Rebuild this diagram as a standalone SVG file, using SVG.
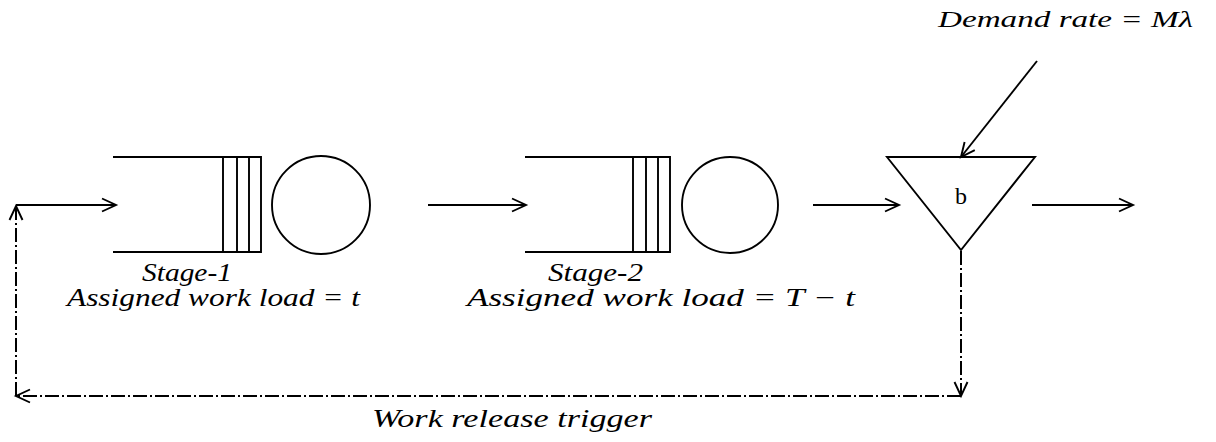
<svg xmlns="http://www.w3.org/2000/svg" width="1216" height="442" viewBox="0 0 1216 442">
<style>
.ln{stroke:#000;stroke-width:1.9;fill:none}
.dd{stroke:#000;stroke-width:2;fill:none;stroke-dasharray:14 3 2 3}
</style>
<defs>
<marker id="ah" markerUnits="userSpaceOnUse" markerWidth="30" markerHeight="30" refX="15" refY="15" orient="auto" overflow="visible">
<path d="M1,8.5 L15,15 L1,21.5" stroke="#000" stroke-width="1.9" fill="none"/>
</marker>
</defs>
<rect width="1216" height="442" fill="#fff"/>
<g id="stage1">
<path class="ln" d="M113,157 H261 V252 H113 M223,157 V252 M237,157 V252 M249,157 V252"/>
<circle class="ln" cx="321" cy="205" r="49"/>
<text font-family="Liberation Serif, serif" font-style="italic" font-size="25" x="142" y="281" textLength="90" lengthAdjust="spacingAndGlyphs">Stage-1</text>
<text font-family="Liberation Serif, serif" font-style="italic" font-size="25" x="67" y="306" textLength="293" lengthAdjust="spacingAndGlyphs">Assigned work load = t</text>
</g>
<g id="stage2">
<path class="ln" d="M525,157 H670 V252 H525 M633,157 V252 M646,157 V252 M658,157 V252"/>
<circle class="ln" cx="730" cy="205" r="48"/>
<text font-family="Liberation Serif, serif" font-style="italic" font-size="25" x="548" y="281" textLength="95" lengthAdjust="spacingAndGlyphs">Stage-2</text>
<text font-family="Liberation Serif, serif" font-style="italic" font-size="25" x="467" y="306" textLength="388" lengthAdjust="spacingAndGlyphs">Assigned work load = T − t</text>
</g>
<g id="buffer">
<path class="ln" d="M887,157 H1035 L961,250 Z"/>
<text font-family="Liberation Serif, serif" font-size="24" x="961" y="204" text-anchor="middle">b</text>
</g>
<g id="labels">
<text font-family="Liberation Serif, serif" font-style="italic" font-size="24" x="938" y="27" textLength="255" lengthAdjust="spacingAndGlyphs">Demand rate = Mλ</text>
<text font-family="Liberation Serif, serif" font-style="italic" font-size="25" x="372" y="427" textLength="280" lengthAdjust="spacingAndGlyphs">Work release trigger</text>
</g>
<g id="connectors">
<line class="ln" x1="16" y1="205" x2="116" y2="205" marker-end="url(#ah)"/>
<line class="ln" x1="428" y1="205" x2="526" y2="205" marker-end="url(#ah)"/>
<line class="ln" x1="813" y1="205" x2="899" y2="205" marker-end="url(#ah)"/>
<line class="ln" x1="1032" y1="205" x2="1133" y2="205" marker-end="url(#ah)"/>
<line class="ln" x1="1037" y1="61" x2="961" y2="157" marker-end="url(#ah)"/>
<line class="dd" x1="961" y1="251" x2="961" y2="396" marker-end="url(#ah)"/>
<line class="dd" x1="961" y1="396" x2="16" y2="396" marker-end="url(#ah)"/>
<line class="dd" x1="16" y1="396" x2="16" y2="206" marker-end="url(#ah)"/>
</g>
</svg>
